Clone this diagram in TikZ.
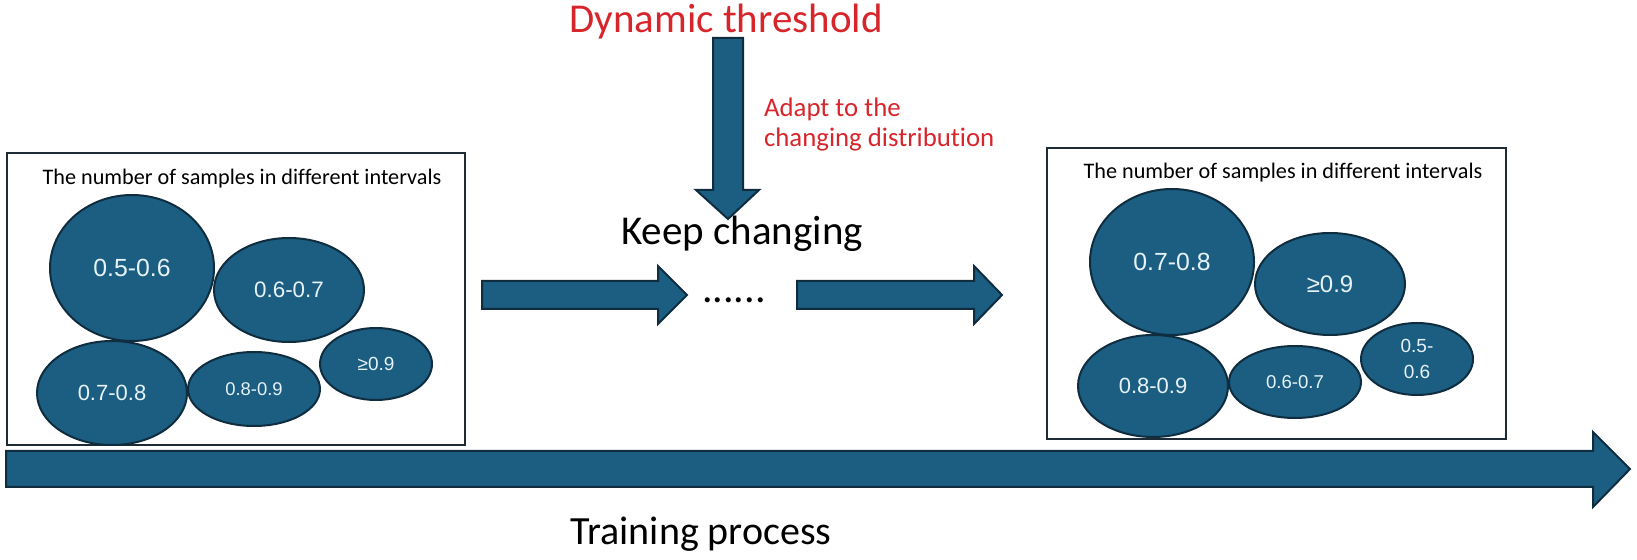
\documentclass[tikz,border=0pt]{standalone}
\usepackage{fontspec}
\setmainfont{Carlito}[Ligatures={NoCommon,NoContextual,NoRequired}]
\newfontfamily\labelfont{Liberation Sans}
\usetikzlibrary{shapes.geometric}
\definecolor{tealblue}{HTML}{1B5E82}
\definecolor{edgeblue}{HTML}{0F2D3F}
\definecolor{boxline}{HTML}{1C2B36}
\definecolor{threshred}{HTML}{D7262B}
\definecolor{labelwhite}{HTML}{E6F2F7}

\begin{document}
\begin{tikzpicture}[x=0.5pt,y=-0.5pt]
    \tikzset{IntervalStyle/.style={ellipse, draw=edgeblue, fill=tealblue, line width=1pt,
            inner sep=0pt, text=labelwhite, align=center},
        BoxStyle/.style={draw=boxline, line width=1.3pt},
        ArrowStyle/.style={draw=edgeblue, fill=tealblue, line width=1pt, line join=miter}}
    \useasboundingbox (0,0) rectangle (1637,560);
    % boxes
    \draw[BoxStyle] (7,153) rectangle (465,445);
    \draw[BoxStyle] (1047,148) rectangle (1506,439);
    \node[anchor=base, font=\fontsize{11.1}{13}\selectfont] (ttl1) at (242,185) {The number of samples in different intervals};
    \node[anchor=base, font=\fontsize{11.1}{13}\selectfont] (ttl2) at (1283,179) {The number of samples in different intervals};
    % before
    \node[IntervalStyle, minimum width=82pt, minimum height=73pt, font=\labelfont\fontsize{12.4}{14}\selectfont] (b56) at (132,268) {0.5-0.6};
    \node[IntervalStyle, minimum width=75pt, minimum height=52pt, font=\labelfont\fontsize{11.2}{13}\selectfont] (b67) at (289,290) {0.6-0.7};
    \node[IntervalStyle, minimum width=75pt, minimum height=52pt, font=\labelfont\fontsize{11}{13}\selectfont] (b78) at (112,393) {0.7-0.8};
    \node[IntervalStyle, minimum width=66pt, minimum height=37pt, font=\labelfont\fontsize{9.2}{11}\selectfont] (b89) at (254,389) {0.8-0.9};
    \node[IntervalStyle, minimum width=56pt, minimum height=36pt, font=\labelfont\fontsize{9.5}{11}\selectfont] (b9) at (376,364) {≥0.9};
    % after
    \node[IntervalStyle, minimum width=82pt, minimum height=73pt, font=\labelfont\fontsize{12.4}{14}\selectfont] (a78) at (1172,262) {0.7-0.8};
    \node[IntervalStyle, minimum width=75pt, minimum height=51pt, font=\labelfont\fontsize{12}{14}\selectfont] (a9) at (1330,284) {≥0.9};
    \node[IntervalStyle, minimum width=75pt, minimum height=51pt, font=\labelfont\fontsize{11}{13}\selectfont] (a89) at (1153,386) {0.8-0.9};
    \node[IntervalStyle, minimum width=66pt, minimum height=36pt, font=\labelfont\fontsize{9.3}{11}\selectfont] (a67) at (1295,382) {0.6-0.7};
    \node[IntervalStyle, minimum width=56pt, minimum height=36pt, font=\labelfont\fontsize{9.5}{13}\selectfont] (a56) at (1417,359) {0.5-\\0.6};
    % arrows
    \draw[ArrowStyle] (713,38) -- (743,38) -- (743,190) -- (759,190) -- (728,219) -- (696,190) -- (713,190) -- cycle;
    \draw[ArrowStyle] (482,281) -- (658,281) -- (658,266) -- (687,295) -- (658,324) -- (658,309) -- (482,309) -- cycle;
    \draw[ArrowStyle] (797,281) -- (974,281) -- (974,266) -- (1002,295) -- (974,324) -- (974,309) -- (797,309) -- cycle;
    \draw[ArrowStyle] (6,451) -- (1593,451) -- (1593,432) -- (1630,469) -- (1593,507) -- (1593,487) -- (6,487) -- cycle;
    % texts
    \node[anchor=base, text=threshred, font=\fontsize{20.5}{24}\selectfont] (thr) at (726,33) {Dynamic threshold};
    \node[anchor=base west, text=threshred, align=left, font=\fontsize{13.4}{15}\selectfont] (adapt) at (757,147) {Adapt to the\\changing distribution};
    \node[anchor=base, font=\fontsize{20.5}{24}\selectfont] (keep) at (742,245) {Keep changing};
    \node[anchor=base, font=\fontsize{21}{24}\selectfont] (dots) at (734,303) {......};
    \node[anchor=base, font=\fontsize{20}{24}\selectfont] (train) at (701,545) {Training process};
\end{tikzpicture}
\end{document}
